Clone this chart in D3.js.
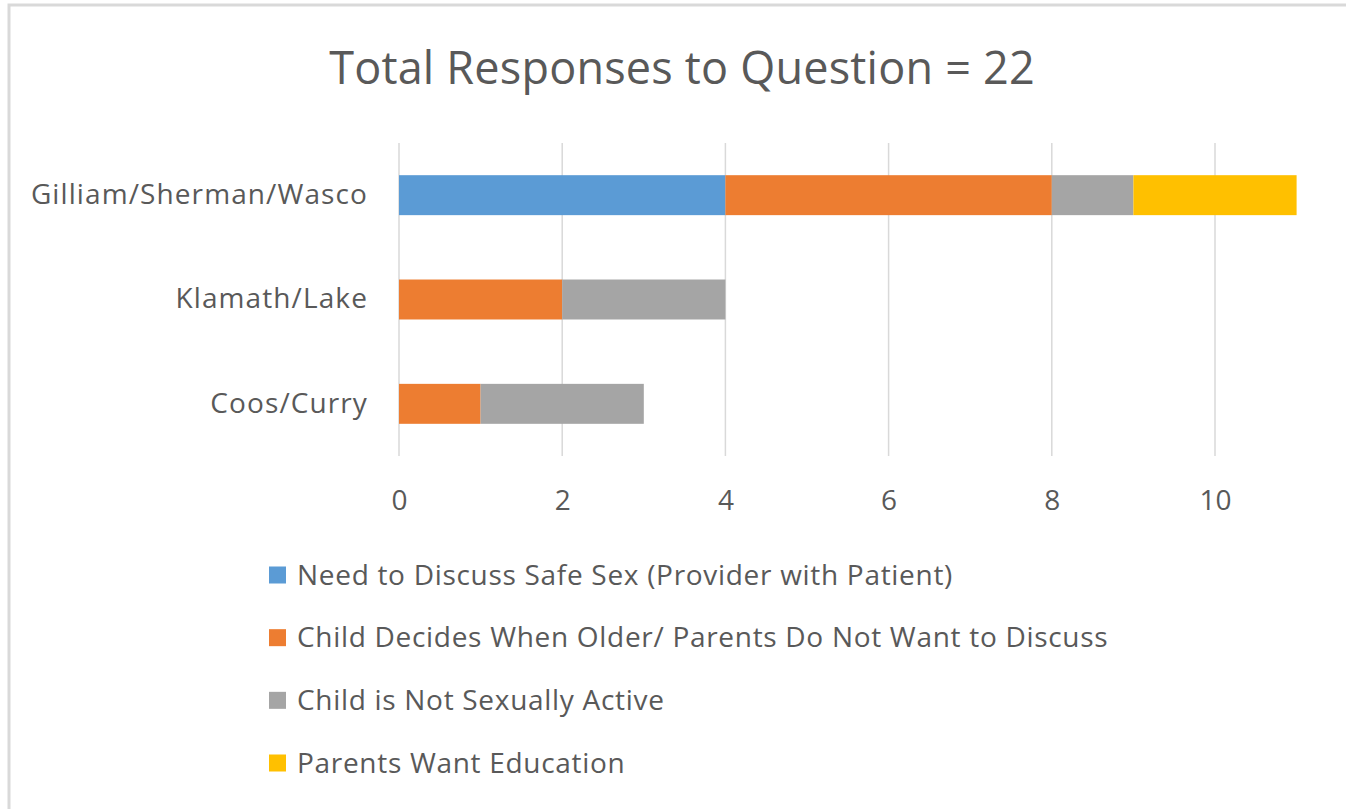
<!DOCTYPE html>
<html><head><meta charset="utf-8">
<script src="https://cdn.jsdelivr.net/npm/d3@7"></script>
<style>body{margin:0;background:#fff}svg{display:block}text{font-family:"Open Sans","Noto Sans",sans-serif;fill:#595959}</style>
</head><body>
<script>
const categories = ["Gilliam/Sherman/Wasco", "Klamath/Lake", "Coos/Curry"];
const seriesNames = ["Need to Discuss Safe Sex (Provider with Patient)", "Child Decides When Older/ Parents Do Not Want to Discuss", "Child is Not Sexually Active", "Parents Want Education"];
const needToDiscuss = [4, 0, 0];
const childDecides = [4, 2, 1];
const notActive = [1, 2, 2];
const wantEducation = [2, 0, 0];
const xTicks = [0, 2, 4, 6, 8, 10];
const colors = ["#5B9BD5", "#ED7D31", "#A5A5A5", "#FFC000"];
const title = "Total Responses to Question = 22";

const W = 1346, H = 809;
const svg = d3.select("body").append("svg").attr("width", W).attr("height", H);
// chart frame
svg.append("rect").attr("x", 9).attr("y", 5).attr("width", W).attr("height", H)
  .attr("fill", "none").attr("stroke", "#d9d9d9").attr("stroke-width", 3);

svg.append("text").attr("x", 682).attr("y", 84).attr("text-anchor", "middle")
  .style("font-size", "45px").style("letter-spacing", "0.2px").text(title);

const rows = categories.map((c, i) => ({cat: c, s0: needToDiscuss[i], s1: childDecides[i], s2: notActive[i], s3: wantEducation[i]}));
const stack = d3.stack().keys(["s0", "s1", "s2", "s3"])(rows);

const x = d3.scaleLinear().domain([0, 11.5]).range([399, 399 + 81.6 * 11.5]);
const y = d3.scaleBand().domain(categories).range([143, 456]).paddingInner(0.617).paddingOuter(0.3085);

// gridlines
svg.append("g").selectAll("line").data(xTicks).join("line")
  .attr("x1", d => x(d)).attr("x2", d => x(d)).attr("y1", 143).attr("y2", 456)
  .attr("stroke", "#d9d9d9").attr("stroke-width", 1.5);

svg.append("g").selectAll("g").data(stack).join("g")
  .attr("fill", (d, i) => colors[i])
  .selectAll("rect").data(d => d).join("rect")
  .attr("x", d => x(d[0])).attr("width", d => x(d[1]) - x(d[0]))
  .attr("y", d => y(d.data.cat)).attr("height", y.bandwidth());

// x axis labels
const xAxis = d3.axisBottom(x).tickValues(xTicks).tickSize(0).tickPadding(0);
const gx = svg.append("g").attr("transform", "translate(0,500)").call(xAxis);
gx.select(".domain").remove();
gx.selectAll("text").style("font-size", "28px").style("font-family", null).attr("fill", null).attr("dy", "0.35em");

// y axis labels
const yAxis = d3.axisLeft(y).tickSize(0).tickPadding(0);
const gy = svg.append("g").attr("transform", "translate(368,0)").call(yAxis);
gy.select(".domain").remove();
gy.selectAll("text").style("font-size", "28px").style("letter-spacing", "1.1px").style("font-family", null).attr("fill", null);

// legend
const legY = d3.scalePoint().domain(seriesNames).range([575, 763]);
const leg = svg.append("g").selectAll("g").data(seriesNames).join("g")
  .attr("transform", d => `translate(269,${legY(d)})`);
leg.append("rect").attr("x", 0).attr("y", -8.5).attr("width", 17).attr("height", 17)
  .attr("fill", (d, i) => colors[i]);
leg.append("text").attr("x", 28).attr("dy", "0.35em").style("font-size", "28px").style("letter-spacing", "0.7px").text(d => d);
</script>
</body></html>
